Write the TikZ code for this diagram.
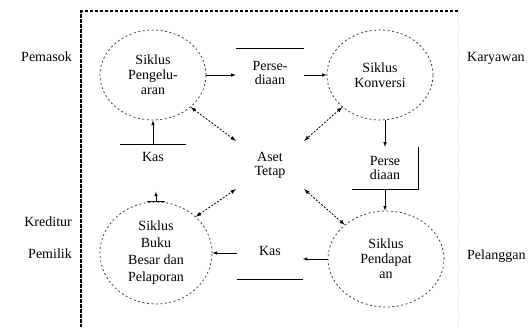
\documentclass[tikz,border=0pt]{standalone}
\usepackage{fontspec}
\setmainfont{Liberation Serif}
\usetikzlibrary{shapes.geometric}
\begin{document}
\begin{tikzpicture}[x=1pt, y=-1pt, >=latex,
	siklus/.style={ellipse, draw=black!75, dash pattern=on 2pt off 2.5pt, line width=0.8pt,
		minimum width=106, minimum height=90, inner sep=1pt, align=center, font=\fontsize{14}{15}\selectfont},
	teks/.style={align=center, inner sep=1pt, font=\fontsize{14}{14}\selectfont},
	aliran/.style={->, line width=0.6pt},
	aset/.style={<->, line width=0.8pt, dash pattern=on 2pt off 1.5pt}]
	\useasboundingbox (0,0) rectangle (532,327);
	% batas perusahaan
	\draw[line width=1.3pt, dash pattern=on 3.5pt off 1.5pt] (458,11) -- (81,11) -- (81,327);
	\draw[gray!30, dotted] (458,11) -- (458,327);
	% siklus
	\node[siklus] (peng) at (153,75) {Siklus\\Pengelu-\\aran};
	\node[siklus] (konv) at (380,75) {Siklus\\Konversi};
	\node[siklus, minimum width=112, minimum height=102, font=\fontsize{14}{17}\selectfont] (buku) at (156,253) {Siklus\\Buku\\Besar dan\\Pelaporan};
	\node[siklus, minimum width=116, minimum height=96] (pend) at (386,259) {Siklus\\Pendapat\\an};
	\node[teks, minimum width=68, minimum height=48] (aset) at (270,165) {Aset\\Tetap};
	% penyimpanan data
	\node[teks, minimum width=68, minimum height=50] (pers1) at (270,73) {Perse-\\diaan};
	\draw (pers1.north west) -- (pers1.north east);
	\node[teks, minimum width=66, minimum height=42] (pers2) at (385,168) {Perse\\diaan};
	\draw (pers2.north east) -- (pers2.south east) -- (pers2.south west);
	\node[teks, minimum width=65, minimum height=26] (kas1) at (153,157) {Kas};
	\draw (kas1.north west) -- (kas1.north east);
	\node[teks, minimum width=65, minimum height=56] (kas2) at (270,251) {Kas};
	\draw (kas2.south west) -- (kas2.south east);
	% pihak luar
	\node[teks, anchor=east] (pemasok) at (73,57) {Pemasok};
	\node[teks, anchor=east] (kreditur) at (73,222) {Kreditur};
	\node[teks, anchor=east] (pemilik) at (73,254) {Pemilik};
	\node[teks, anchor=west] (karyawan) at (466,58) {Karyawan};
	\node[teks, anchor=west] (pelanggan) at (466,256) {Pelanggan};
	% aliran
	\draw[aliran] (peng.east) -- (peng.east -| pers1.west);
	\draw[aliran] (pers1.east |- konv.west) -- (konv.west);
	\draw[aliran] (kas1.north) -- (peng.south);
	\draw[aliran] (pers2.north |- konv.south) -- (pers2.north);
	\draw[aliran] (pers2.south) -- (pers2.south |- pend.north);
	\draw[aliran] (pend.west) -- (pend.west -| kas2.east);
	\draw[aliran] (kas2.west |- buku.east) -- (buku.east);
	\draw[aliran] (buku.north) -- ++(0,-10);
	\draw ([xshift=-9pt]buku.north) -- ([xshift=9pt]buku.north);
	\draw[aset] (peng.south east) -- (aset.north west);
	\draw[aset] (konv.south west) -- (aset.north east);
	\draw[aset] (buku.north east) -- (aset.south west);
	\draw[aset] (pend.north west) -- (aset.south east);
\end{tikzpicture}
\end{document}
